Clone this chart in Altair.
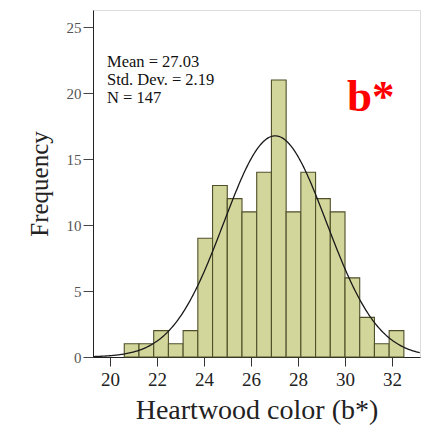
import altair as alt
import pandas as pd

# Histogram counts (19 bins)
counts = [1, 1, 2, 1, 2, 9, 13, 12, 11, 14, 21, 11, 14, 12, 11, 6, 3, 1, 2]
bin_first = 20.61
bin_width = 0.626
mean_val = 27.03
sd_val = 2.19
n_val = 147
x_ticks = [20, 22, 24, 26, 28, 30, 32]
y_ticks = [0, 5, 10, 15, 20, 25]
stats_lines = ["Mean = 27.03", "Std. Dev. = 2.19", "N = 147"]

bars = pd.DataFrame({
    "start": [bin_first + i * bin_width for i in range(len(counts))],
    "end": [bin_first + (i + 1) * bin_width for i in range(len(counts))],
    "count": counts,
})

FONT = "Liberation Serif"
xscale = alt.Scale(domain=[19.28, 33.19], nice=False, zero=False)
yscale = alt.Scale(domain=[0, 26.3], nice=False)

xaxis = alt.Axis(values=x_ticks, title="Heartwood color (b*)", grid=False,
                 labelFont=FONT, labelFontSize=19, labelColor="#222",
                 titleFont=FONT, titleFontSize=28, titleFontWeight="normal",
                 titleColor="#222", tickSize=9, tickColor="#333",
                 domainColor="#222", labelPadding=4, titlePadding=7)
yaxis = alt.Axis(values=y_ticks, title="Frequency", grid=False,
                 labelFont=FONT, labelFontSize=15, labelColor="#555",
                 titleFont=FONT, titleFontSize=25, titleFontWeight="normal",
                 titleColor="#222", tickSize=10, tickColor="#444",
                 domainColor="#222", labelPadding=2, titlePadding=14)

hist = alt.Chart(bars).mark_rect(
    fill="#d3d69b", stroke="#4f4f2a", strokeWidth=1.1
).encode(
    x=alt.X("start:Q", scale=xscale, axis=xaxis),
    x2="end:Q",
    y=alt.Y("count:Q", scale=yscale, axis=yaxis),
    y2=alt.datum(0),
)

curve = alt.Chart(alt.sequence(19.28, 33.2, 0.05, as_="x")).transform_calculate(
    y=f"{n_val}*{bin_width}*exp(-0.5*pow((datum.x-{mean_val})/{sd_val},2))/({sd_val}*sqrt(2*PI))"
).mark_line(color="#1a1a1a", strokeWidth=1.3, clip=True).encode(
    x=alt.X("x:Q", scale=xscale),
    y=alt.Y("y:Q", scale=yscale),
)

stats = alt.Chart(pd.DataFrame({"t": [stats_lines]})).mark_text(
    align="left", baseline="top", font=FONT, fontSize=16.5, lineHeight=18,
    color="#111"
).encode(x=alt.value(14), y=alt.value(44), text="t")

label = alt.Chart(pd.DataFrame({"t": ["b*"]})).mark_text(
    align="left", baseline="alphabetic", font=FONT, fontSize=45,
    fontWeight="bold", color="#ff0000"
).encode(x=alt.value(254), y=alt.value(101), text="t")

chart = alt.layer(hist, curve, stats, label).properties(
    width=327, height=347,
    autosize=alt.AutoSizeParams(type="none"),
    padding={"left": 85, "top": 2, "right": 8, "bottom": 70},
).configure_view(stroke="#9a9a9a", strokeWidth=1.2).configure(background="white")

chart.save("out.html", embed_options={"renderer": "svg", "actions": False})
